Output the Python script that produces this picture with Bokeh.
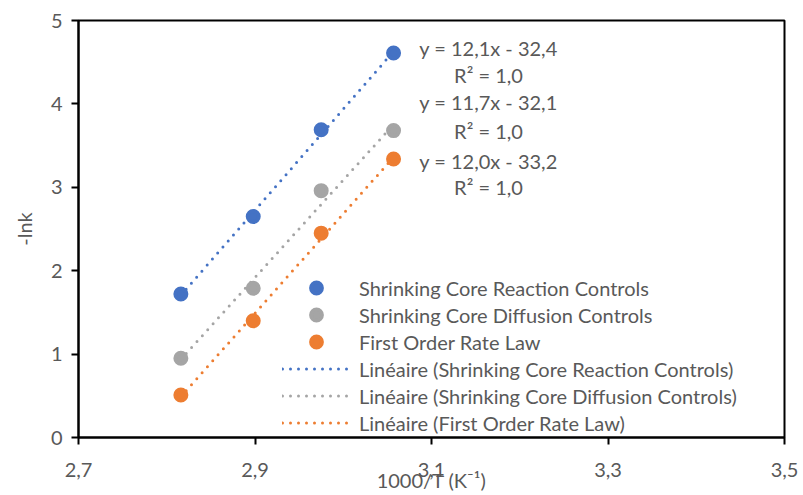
import numpy as np
from bokeh.plotting import figure
from bokeh.models import (Range1d, FixedTicker, CustomJSTickFormatter,
                          Label, Legend, LegendItem)
from bokeh.embed import file_html
from bokeh.resources import INLINE

# ---- data ----
x_vals = [2.816, 2.898, 2.975, 3.057]
reaction = [1.72, 2.65, 3.69, 4.61]
diffusion = [0.95, 1.79, 2.96, 3.68]
first_order = [0.51, 1.40, 2.45, 3.34]

series_names = ["Shrinking Core Reaction Controls",
                "Shrinking Core Diffusion Controls",
                "First Order Rate Law"]
equations = ["y = 12,1x - 32,4", "y = 11,7x - 32,1", "y = 12,0x - 33,2"]
r_squared = ["R² = 1,0", "R² = 1,0", "R² = 1,0"]
x_ticks = [2.7, 2.9, 3.1, 3.3, 3.5]
y_ticks = [0, 1, 2, 3, 4, 5]

colors = ["#4472C4", "#A5A5A5", "#ED7D31"]
FONT = "Lato"
FS = "20px"
TXT = "#595959"

p = figure(width=800, height=494, output_backend="svg", toolbar_location=None,
           x_range=Range1d(2.7, 3.5), y_range=Range1d(0, 5),
           min_border_left=78, min_border_right=16, min_border_top=20,
           min_border_bottom=57)
p.grid.visible = False
p.outline_line_color = "black"
p.outline_line_width = 2
p.background_fill_color = "white"
p.border_fill_color = "white"

for ax in (p.xaxis[0], p.yaxis[0]):
    ax.axis_line_color = "black"
    ax.axis_line_width = 2
    ax.major_tick_line_color = "black"
    ax.major_tick_line_width = 2
    ax.major_tick_out = 7
    ax.major_tick_in = 0
    ax.minor_tick_out = 0
    ax.minor_tick_in = 0
    ax.major_label_text_font = FONT
    ax.major_label_text_font_size = FS
    ax.major_label_text_color = TXT
    ax.axis_label_text_font = FONT
    ax.axis_label_text_font_size = FS
    ax.axis_label_text_font_style = "normal"
    ax.axis_label_text_color = TXT

p.xaxis[0].ticker = FixedTicker(ticks=x_ticks)
p.xaxis[0].formatter = CustomJSTickFormatter(code="return tick.toFixed(1).replace('.', ',');")
p.xaxis[0].major_label_standoff = 18
p.xaxis[0].axis_label = "1000/T (K⁻¹)"
p.xaxis[0].axis_label_standoff = -12

p.yaxis[0].ticker = FixedTicker(ticks=y_ticks)
p.yaxis[0].major_label_standoff = 9
p.yaxis[0].axis_label = "-lnk"
p.yaxis[0].axis_label_standoff = 12

scatter_r = []
line_r = []
for ys, c in zip([reaction, diffusion, first_order], colors):
    slope, icpt = np.polyfit(x_vals, ys, 1)
    xs_fit = [min(x_vals), max(x_vals)]
    ys_fit = [slope * xv + icpt for xv in xs_fit]
    lr = p.line(xs_fit, ys_fit, line_color=c, line_width=3, line_dash="0 8",
                line_cap="round")
    line_r.append(lr)
for ys, c in zip([reaction, diffusion, first_order], colors):
    sr = p.scatter(x_vals, ys, size=11, fill_color=c, line_color=c,
                   line_width=4, marker="circle")
    scatter_r.append(sr)

# equation labels
eq_y = [(4.676, 4.341), (4.017, 3.681), (3.321, 2.998)]
for eq, r2, (y1, y2) in zip(equations, r_squared, eq_y):
    for t, yy in ((eq, y1), (r2, y2)):
        p.add_layout(Label(x=3.1646, y=yy, text=t, text_align="center",
                           text_baseline="middle", text_font=FONT,
                           text_font_size=FS, text_color=TXT))

items = [LegendItem(label=n, renderers=[r]) for n, r in zip(series_names, scatter_r)]
items += [LegendItem(label="Linéaire (" + n + ")", renderers=[r])
          for n, r in zip(series_names, line_r)]
legend = Legend(items=items, location=(204, 1), padding=0, margin=0,
                border_line_color=None, background_fill_alpha=0,
                label_text_font=FONT, label_text_font_size=FS,
                label_text_color=TXT, glyph_width=68, glyph_height=27,
                label_height=27, spacing=0, label_standoff=9)
p.add_layout(legend)

open("out.html", "w").write(file_html(p, INLINE))
